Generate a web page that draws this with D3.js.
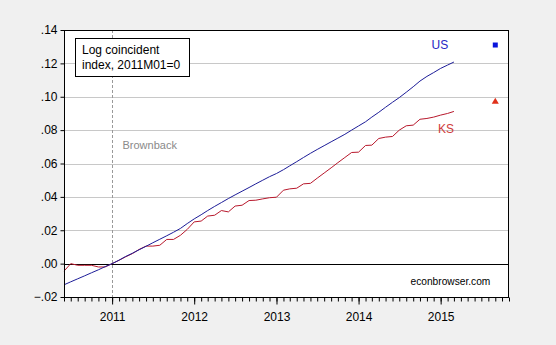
<!DOCTYPE html>
<html><head><meta charset="utf-8">
<script src="https://cdn.jsdelivr.net/npm/d3@7"></script>
<style>
html,body{margin:0;padding:0;background:#f0f0f0;}
svg{display:block;font-family:"Liberation Sans",Arial,sans-serif;}
</style></head>
<body><svg id="c" width="556" height="345"></svg>
<script>
// ---- data (monthly, starting 2010M06) ----
const startMonth = "2010-06";
const usValues = [
 -0.0127,-0.0109,-0.0091,-0.0073,-0.0055,-0.0037,-0.0018,
  0.0000,0.0021,0.0042,0.0062,0.0083,0.0104,0.0125,0.0146,0.0167,0.0188,0.0211,0.0240,
  0.0268,0.0293,0.0318,0.0343,0.0366,0.0390,0.0412,0.0434,0.0456,0.0478,0.0500,0.0521,
  0.0540,0.0563,0.0586,0.0611,0.0636,0.0661,0.0684,0.0707,0.0730,0.0752,0.0775,0.0800,
  0.0825,0.0850,0.0878,0.0907,0.0937,0.0967,0.0995,0.1027,0.1060,0.1094,0.1122,0.1145,
  0.1170,0.1190,0.1208];
const ksValues = [
 -0.0045,0.0000,-0.0010,-0.0010,-0.0010,-0.0020,-0.0020,
  0.0000,0.0020,0.0040,0.0060,0.0085,0.0105,0.0105,0.0110,0.0145,0.0145,0.0170,0.0205,
  0.0250,0.0255,0.0285,0.0290,0.0318,0.0310,0.0345,0.0350,0.0378,0.0380,0.0388,0.0395,
  0.0398,0.0440,0.0448,0.0452,0.0478,0.0481,0.0512,0.0543,0.0574,0.0605,0.0636,0.0666,
  0.0668,0.0708,0.0710,0.0750,0.0758,0.0762,0.0800,0.0826,0.0830,0.0865,0.0870,0.0878,
  0.0890,0.0900,0.0912];
const markerMonth = "2015-09";
const usMarker = 0.131;
const ksMarker = 0.097;
const xDomain = ["2010-06","2015-11"];
const yTicks = [-0.02,0.00,0.02,0.04,0.06,0.08,0.10,0.12,0.14];
const xTickLabels = ["2011","2012","2013","2014","2015"];
const policyMonth = "2011-01";

// ---- setup ----
const parse = d3.timeParse("%Y-%m");
const start = parse(startMonth);
const us = usValues.map((v,i)=>({date:d3.timeMonth.offset(start,i), value:v}));
const ks = ksValues.map((v,i)=>({date:d3.timeMonth.offset(start,i), value:v}));

const L=64, R=509, T=30, B=297;
const svg = d3.select("#c");
const x = d3.scaleTime().domain(xDomain.map(parse)).range([L,R]);
const y = d3.scaleLinear().domain([-0.02,0.14]).range([B,T]);

svg.append("rect").attr("x",L).attr("y",T).attr("width",R-L).attr("height",B-T).attr("fill","#fff");

// gridlines
svg.append("g").selectAll("line").data(yTicks.filter(d=>d>-0.02&&d<0.14&&d!==0)).join("line")
  .attr("x1",L).attr("x2",R)
  .attr("y1",d=>Math.round(y(d))+0.5).attr("y2",d=>Math.round(y(d))+0.5)
  .attr("stroke","#c8c8c8").attr("stroke-width",1);

// policy line
const px = Math.round(x(parse(policyMonth)))+0.5;
svg.append("line").attr("x1",px).attr("x2",px).attr("y1",T).attr("y2",B)
  .attr("stroke","#999").attr("stroke-dasharray","3,2").attr("stroke-width",1);

// zero line
svg.append("line").attr("x1",L).attr("x2",R)
  .attr("y1",Math.round(y(0))+0.5).attr("y2",Math.round(y(0))+0.5)
  .attr("stroke","#000").attr("stroke-width",1);

// lines
const line = d3.line().x(d=>x(d.date)).y(d=>y(d.value));
svg.append("path").datum(ks).attr("d",line).attr("fill","none").attr("stroke","#b8182c").attr("stroke-width",1);
svg.append("path").datum(us).attr("d",line).attr("fill","none").attr("stroke","#1c1c98").attr("stroke-width",1);

// markers
const mx = x(parse(markerMonth));
svg.append("rect").attr("x",mx-2.5).attr("y",y(usMarker)-2.5).attr("width",5).attr("height",5).attr("fill","#0a14dc");
svg.append("path").attr("d",d3.symbol(d3.symbolTriangle,22)()).attr("transform",`translate(${mx},${y(ksMarker)})`).attr("fill","#e0301a");

// frame
svg.append("rect").attr("x",L+0.5).attr("y",T+0.5).attr("width",R-L-1).attr("height",B-T).attr("fill","none").attr("stroke","#000");

// y axis
const yAxis = d3.axisLeft(y).tickValues(yTicks).tickSize(4).tickPadding(3)
  .tickFormat(d=>d3.format(".2f")(d).replace("0.","."));
const gy = svg.append("g").attr("transform",`translate(${L+0.5},0)`).call(yAxis);
gy.select(".domain").remove();
gy.selectAll("text").attr("font-size","12px").attr("font-family","Liberation Sans, Arial").attr("fill","#000");
gy.selectAll("line").attr("stroke","#000");

// x axis minor
const gxm = svg.append("g").attr("transform",`translate(0,${B+0.5})`)
  .call(d3.axisBottom(x).ticks(d3.timeMonth.every(1)).tickSize(4).tickFormat(""));
gxm.select(".domain").remove();
gxm.selectAll("line").attr("stroke","#000");
// x axis major
const majors = xTickLabels.map(s=>parse(s+"-01"));
const gx = svg.append("g").attr("transform",`translate(0,${B+0.5})`)
  .call(d3.axisBottom(x).tickValues(majors).tickSize(7).tickPadding(8).tickFormat((d,i)=>xTickLabels[i]));
gx.select(".domain").remove();
gx.selectAll("line").attr("stroke","#000");
gx.selectAll("text").attr("font-size","12px").attr("font-family","Liberation Sans, Arial").attr("fill","#000");

// legend box
svg.append("rect").attr("x",75.5).attr("y",38.5).attr("width",114).attr("height",38).attr("fill","#fff").attr("stroke","#000");
svg.append("text").attr("x",82).attr("y",54).attr("font-size","12px").text("Log coincident");
svg.append("text").attr("x",82).attr("y",68.5).attr("font-size","12px").text("index, 2011M01=0");

// annotations
svg.append("text").attr("x",122.5).attr("y",149).attr("font-size","11px").attr("fill","#8a8a8a").text("Brownback");
svg.append("text").attr("x",431.5).attr("y",49).attr("font-size","12px").attr("fill","#2626c4").text("US");
svg.append("text").attr("x",438).attr("y",132.5).attr("font-size","12px").attr("fill","#d03c3c").text("KS");
svg.append("text").attr("x",410.5).attr("y",285).attr("font-size","10.2px").attr("fill","#000").text("econbrowser.com");
</script></body></html>
